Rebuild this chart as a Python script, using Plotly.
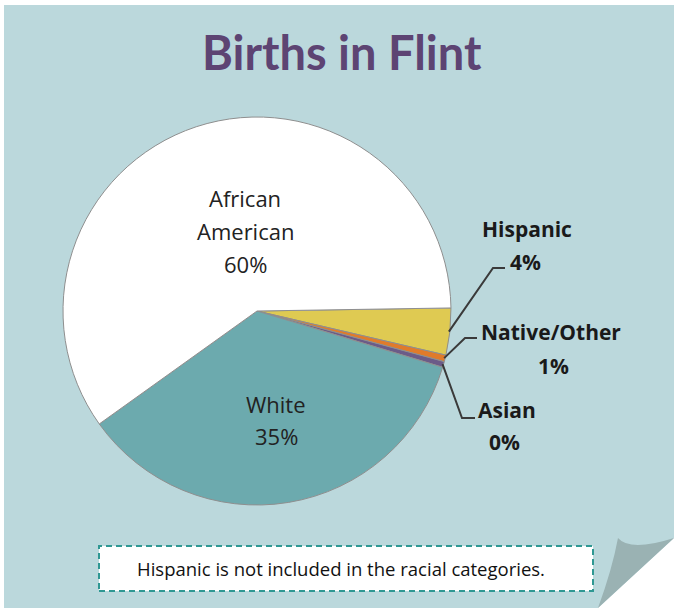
import math
import plotly.graph_objects as go

# ---------------- data ----------------
LABELS = ["Hispanic", "Native/Other", "Asian", "White", "African American"]
VALUES = [3.9, 0.55, 0.48, 35.4, 59.6]
COLORS = ["#dfca52", "#e07b2a", "#6b5b88", "#6caaae", "#ffffff"]
TITLE = "Births in Flint"
NOTE = "Hispanic is not included in the racial categories."

# ---------------- layout helpers ----------------
W, H = 674, 610
BG = "#bbd8dc"


def px(x, y):
    return x / W, 1 - y / H


def pp(x, y):
    a, b = px(x, y)
    return f"{a:.5f},{b:.5f}"


CX, CY, R = 257, 311, 194
ROT = 89.1
total = sum(VALUES)
pct = [round(v / total * 100) for v in VALUES]

fig = go.Figure()
fig.add_trace(go.Pie(
    labels=LABELS, values=VALUES, sort=False, direction="clockwise",
    rotation=ROT, textinfo="none", showlegend=False,
    marker=dict(colors=COLORS, line=dict(color="#8f8f8f", width=1)),
    domain=dict(x=[(CX - R) / W, (CX + R) / W], y=[1 - (CY + R) / H, 1 - (CY - R) / H]),
    hovertemplate="%{label}: %{percent}<extra></extra>",
))

# mid angle (clockwise from 12 o'clock) of each slice, from data
mids = []
cum = 0
for v in VALUES:
    mids.append(ROT + (cum + v / 2) / total * 360)
    cum += v


def edge_pt(i, rr=R):
    a = math.radians(mids[i])
    return CX + rr * math.sin(a), CY - rr * math.cos(a)


shapes = []
# card with folded corner
shapes.append(dict(type="path", xref="paper", yref="paper", layer="below",
                   path=f"M{pp(4,5)} L{pp(674,5)} L{pp(674,538)} L{pp(598,608)} L{pp(4,608)} Z",
                   fillcolor=BG, line=dict(width=0)))
shapes.append(dict(type="path", xref="paper", yref="paper", layer="below",
                   path=f"M{pp(618,538)} Q{pp(630,552)} {pp(674,538)} L{pp(598,608)} Q{pp(612,570)} {pp(618,538)} Z",
                   fillcolor="#9ab2b3", line=dict(width=0)))
# note box
shapes.append(dict(type="rect", xref="paper", yref="paper", layer="below",
                   x0=px(99, 0)[0], x1=px(593, 0)[0], y0=px(0, 591)[1], y1=px(0, 546)[1],
                   fillcolor="#ffffff", line=dict(color="#2f9893", width=2, dash="6px,4px")))

# leader lines for small slices (elbow + short horizontal)
ELBOWS = {0: (493, 268, 505), 1: (465, 338, 477), 2: (462, 418, 475)}
for i, (ex, ey, hx) in ELBOWS.items():
    sx, sy = edge_pt(i, R - 1)
    shapes.append(dict(type="path", xref="paper", yref="paper",
                       path=f"M{pp(sx,sy)} L{pp(ex,ey)} L{pp(hx,ey)}",
                       line=dict(color="#3a3a3a", width=2)))

annotations = []
annotations.append(dict(text=f"<b>{TITLE}</b>", x=px(342, 0)[0], y=px(0, 52)[1],
                        xref="paper", yref="paper", showarrow=False, xanchor="center", yanchor="middle",
                        font=dict(family="Lato", size=47, color="#5d4473")))
annotations.append(dict(text=NOTE, x=px(341, 0)[0], y=px(0, 568)[1],
                        xref="paper", yref="paper", showarrow=False, xanchor="center", yanchor="middle",
                        font=dict(family="Open Sans", size=18.5, color="#111111")))

# inside labels (line positions in px)
INSIDE = {4: [("African", 245, 198), ("American", 245, 231), ("{p}%", 245, 264)],
          3: [("White", 276, 404), ("{p}%", 276, 436)]}
for i, lines in INSIDE.items():
    for txt, x, y in lines:
        annotations.append(dict(text=txt.format(p=pct[i]), x=px(x, 0)[0], y=px(0, y)[1],
                                xref="paper", yref="paper", showarrow=False,
                                xanchor="center", yanchor="middle",
                                font=dict(family="Open Sans", size=22, color="#222222")))

OUTSIDE = {0: [(527, 229), (525, 262)], 1: [(551, 332), (553, 366)], 2: [(507, 410), (505, 442)]}
for i, ((x1, y1), (x2, y2)) in OUTSIDE.items():
    for txt, x, y in ((LABELS[i], x1, y1), (f"{pct[i]}%", x2, y2)):
        annotations.append(dict(text=f"<b>{txt}</b>", x=px(x, 0)[0], y=px(0, y)[1],
                                xref="paper", yref="paper", showarrow=False,
                                xanchor="center", yanchor="middle",
                                font=dict(family="Open Sans", size=21, color="#1a1a1a")))

fig.update_layout(width=W, height=H, margin=dict(l=0, r=0, t=0, b=0),
                  paper_bgcolor="#ffffff", plot_bgcolor="#ffffff",
                  shapes=shapes, annotations=annotations)

fig.write_html("out.html", config={"displayModeBar": False},
               post_script="document.body.style.margin='0px';")
